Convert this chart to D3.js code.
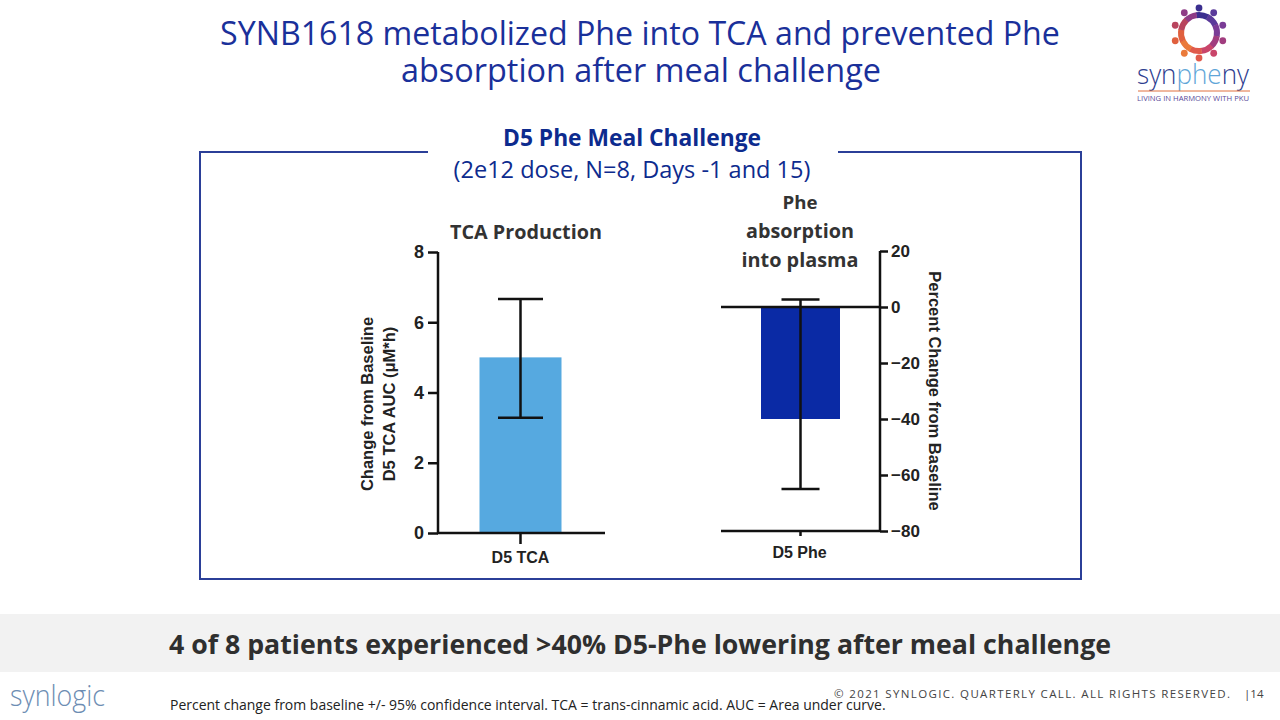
<!DOCTYPE html>
<html><head><meta charset="utf-8">
<script src="https://cdn.jsdelivr.net/npm/d3@7/dist/d3.min.js"></script>
<style>
html,body{margin:0;padding:0;background:#fff;}
svg{display:block;}
</style></head>
<body>
<svg id="c" width="1280" height="720"></svg>
<script>
// ---- data ----
const tcaCategories = ["D5 TCA"];
const tcaMean = [5.0];
const tcaLow = [3.28];
const tcaHigh = [6.66];
const tcaTicks = [0, 2, 4, 6, 8];

const pheCategories = ["D5 Phe"];
const pheMean = [-40];
const pheLow = [-65];
const pheHigh = [2.7];
const pheTicks = [20, 0, -20, -40, -60, -80];

const svg = d3.select("#c");
const CAL = "'Open Sans','Noto Sans',sans-serif";
const ARIAL = "'Liberation Sans',Arial,sans-serif";

function fit(sel, w) {
  const n = sel.node();
  const cur = n.getComputedTextLength();
  const fs = parseFloat(sel.attr("font-size"));
  sel.attr("font-size", (fs * w / cur).toFixed(2));
}

// ---- title ----
const t1 = svg.append("text").attr("x", 640).attr("y", 45).attr("text-anchor", "middle")
  .attr("font-family", CAL).attr("font-size", 30).attr("fill", "#1a309a")
  .text("SYNB1618 metabolized Phe into TCA and prevented Phe");
fit(t1, 840);
const t2 = svg.append("text").attr("x", 641).attr("y", 82).attr("text-anchor", "middle")
  .attr("font-family", CAL).attr("font-size", 30).attr("fill", "#1a309a")
  .text("absorption after meal challenge");
fit(t2, 480);

// ---- frame ----
svg.append("rect").attr("x", 200).attr("y", 152).attr("width", 881).attr("height", 427)
  .attr("fill", "none").attr("stroke", "#2b3f98").attr("stroke-width", 2);
svg.append("rect").attr("x", 428).attr("y", 140).attr("width", 410).attr("height", 30).attr("fill", "#fff");
const h1 = svg.append("text").attr("x", 632).attr("y", 146).attr("text-anchor", "middle")
  .attr("font-family", CAL).attr("font-weight", "bold").attr("font-size", 22).attr("fill", "#0d2b8e")
  .text("D5 Phe Meal Challenge");
fit(h1, 258);
const h2 = svg.append("text").attr("x", 632).attr("y", 178).attr("text-anchor", "middle")
  .attr("font-family", CAL).attr("font-size", 22).attr("fill", "#0d2b8e")
  .text("(2e12 dose, N=8, Days -1 and 15)");
fit(h2, 357);

// ---- left chart: TCA ----
const yL = d3.scaleLinear().domain([0, 8]).range([533, 252]);
const xL = d3.scaleBand().domain(tcaCategories).range([438, 605]).paddingInner(0).paddingOuter(0.25);
const barWL = 82;
const gL = svg.append("g");
gL.selectAll("rect.bar").data(tcaCategories).join("rect")
  .attr("x", (d) => xL(d) + xL.bandwidth() / 2 - barWL / 2 - 1)
  .attr("width", barWL)
  .attr("y", (d, i) => yL(tcaMean[i]))
  .attr("height", (d, i) => yL(0) - yL(tcaMean[i]))
  .attr("fill", "#56a9e0");
tcaCategories.forEach((c, i) => {
  const cx = xL(c) + xL.bandwidth() / 2 - 1;
  gL.append("line").attr("x1", cx).attr("x2", cx).attr("y1", yL(tcaHigh[i])).attr("y2", yL(tcaLow[i]))
    .attr("stroke", "#111").attr("stroke-width", 2.5);
  [tcaHigh[i], tcaLow[i]].forEach(v => gL.append("line").attr("x1", cx - 22.5).attr("x2", cx + 22.5)
    .attr("y1", yL(v)).attr("y2", yL(v)).attr("stroke", "#111").attr("stroke-width", 2.5));
  gL.append("line").attr("x1", cx).attr("x2", cx).attr("y1", 533).attr("y2", 544)
    .attr("stroke", "#111").attr("stroke-width", 2.5);
  gL.append("text").attr("x", cx).attr("y", 563).attr("text-anchor", "middle")
    .attr("font-family", ARIAL).attr("font-weight", "bold").attr("font-size", 16).attr("fill", "#222")
    .text(c);
});
const axL = gL.append("g").attr("transform", "translate(438,0)")
  .call(d3.axisLeft(yL).tickValues(tcaTicks).tickSize(10).tickPadding(4).tickFormat(d3.format("d")));
axL.select(".domain").attr("stroke", "#111").attr("stroke-width", 2.5).attr("d", "M0,252V533");
axL.selectAll(".tick line").attr("stroke", "#111").attr("stroke-width", 2.5);
axL.selectAll(".tick text").attr("font-family", ARIAL).attr("font-weight", "bold").attr("font-size", 18).attr("fill", "#222");
gL.append("line").attr("x1", 437).attr("x2", 605).attr("y1", 533).attr("y2", 533).attr("stroke", "#111").attr("stroke-width", 2.5);
gL.append("text").attr("transform", "translate(373,404) rotate(-90)").attr("text-anchor", "middle")
  .attr("font-family", ARIAL).attr("font-weight", "bold").attr("font-size", 16.5).attr("fill", "#222")
  .text("Change from Baseline");
gL.append("text").attr("transform", "translate(395,404) rotate(-90)").attr("text-anchor", "middle")
  .attr("font-family", ARIAL).attr("font-weight", "bold").attr("font-size", 16.5).attr("fill", "#222")
  .text("D5 TCA AUC (\u03bcM*h)");
const lt = gL.append("text").attr("x", 526).attr("y", 239).attr("text-anchor", "middle")
  .attr("font-family", CAL).attr("font-weight", "bold").attr("font-size", 20).attr("fill", "#333")
  .text("TCA Production");
fit(lt, 152);

// ---- right chart: Phe ----
const yR = d3.scaleLinear().domain([-80, 20]).range([531, 251]);
const xR = d3.scaleBand().domain(pheCategories).range([721, 880]).paddingInner(0).paddingOuter(0.25);
const barWR = 79;
const gR = svg.append("g");
gR.selectAll("rect.bar").data(pheCategories).join("rect")
  .attr("x", (d) => xR(d) + xR.bandwidth() / 2 - barWR / 2)
  .attr("width", barWR)
  .attr("y", yR(0))
  .attr("height", (d, i) => yR(pheMean[i]) - yR(0))
  .attr("fill", "#0a2aa5");
pheCategories.forEach((c, i) => {
  const cx = xR(c) + xR.bandwidth() / 2;
  gR.append("line").attr("x1", cx).attr("x2", cx).attr("y1", yR(pheHigh[i])).attr("y2", yR(pheLow[i]))
    .attr("stroke", "#111").attr("stroke-width", 2.5);
  [pheHigh[i], pheLow[i]].forEach(v => gR.append("line").attr("x1", cx - 19).attr("x2", cx + 19)
    .attr("y1", yR(v)).attr("y2", yR(v)).attr("stroke", "#111").attr("stroke-width", 2.5));
  gR.append("line").attr("x1", cx).attr("x2", cx).attr("y1", yR(-80)).attr("y2", yR(-80) + 5)
    .attr("stroke", "#111").attr("stroke-width", 2.5);
  gR.append("text").attr("x", cx - 1).attr("y", 558).attr("text-anchor", "middle")
    .attr("font-family", ARIAL).attr("font-weight", "bold").attr("font-size", 16).attr("fill", "#222")
    .text(c);
});
gR.append("line").attr("x1", 721).attr("x2", 880).attr("y1", yR(0)).attr("y2", yR(0)).attr("stroke", "#111").attr("stroke-width", 2.5);
gR.append("line").attr("x1", 721).attr("x2", 880).attr("y1", yR(-80)).attr("y2", yR(-80)).attr("stroke", "#111").attr("stroke-width", 2.5);
const axR = gR.append("g").attr("transform", "translate(880,0)")
  .call(d3.axisRight(yR).tickValues(pheTicks).tickSize(8).tickPadding(3).tickFormat(d3.format("d")));
axR.select(".domain").attr("stroke", "#111").attr("stroke-width", 2.5).attr("d", "M0,251V531");
axR.selectAll(".tick line").attr("stroke", "#111").attr("stroke-width", 2.5);
axR.selectAll(".tick text").attr("font-family", ARIAL).attr("font-weight", "bold").attr("font-size", 17).attr("fill", "#222");
gR.append("text").attr("transform", "translate(929,391) rotate(90)").attr("text-anchor", "middle")
  .attr("font-family", ARIAL).attr("font-weight", "bold").attr("font-size", 16.5).attr("fill", "#222")
  .text("Percent Change from Baseline");
["Phe", "absorption", "into plasma"].forEach((s, i) => {
  const t = gR.append("text").attr("x", 800).attr("y", 209 + i * 29).attr("text-anchor", "middle")
    .attr("font-family", CAL).attr("font-weight", "bold").attr("font-size", 20).attr("fill", "#333").text(s);
  fit(t, [35, 108, 117][i]);
});

// ---- banner ----
svg.append("rect").attr("x", 0).attr("y", 614).attr("width", 1280).attr("height", 58).attr("fill", "#f2f2f2");
const bt = svg.append("text").attr("x", 640).attr("y", 654).attr("text-anchor", "middle")
  .attr("font-family", CAL).attr("font-weight", "bold").attr("font-size", 26).attr("fill", "#2f2f2f")
  .text("4 of 8 patients experienced >40% D5-Phe lowering after meal challenge");
fit(bt, 942);

// ---- footer ----
svg.append("text").attr("x", 10).attr("y", 706).attr("font-family", CAL).attr("font-weight", 300)
  .attr("font-size", 30).attr("fill", "#6d8db3").attr("textLength", 95).attr("lengthAdjust", "spacingAndGlyphs")
  .text("synlogic");
const fn = svg.append("text").attr("x", 170).attr("y", 710).attr("font-family", CAL)
  .attr("font-size", 13).attr("fill", "#222")
  .text("Percent change from baseline +/- 95% confidence interval. TCA = trans-cinnamic acid. AUC = Area under curve.");
fit(fn, 716);
svg.append("text").attr("x", 834).attr("y", 698).attr("font-family", CAL)
  .attr("font-size", 11.5).attr("fill", "#444")
  .attr("textLength", 396).attr("lengthAdjust", "spacing")
  .text("\u00a9 2021 SYNLOGIC. QUARTERLY CALL. ALL RIGHTS RESERVED.");
svg.append("text").attr("x", 1244).attr("y", 698).attr("font-family", CAL)
  .attr("font-size", 11.5).attr("fill", "#444").text("|14");

// ---- synpheny logo ----
const lg = svg.append("g").attr("transform", "translate(1199,33)");
const ringColors = ["#3b2f8f", "#5a3a9a", "#7a3c96", "#a13d7f", "#c9456a", "#e05a4c", "#ea7a3a", "#e0603e", "#b8445e", "#8e3c86", "#5b3a99", "#3f3493"];
d3.range(10).forEach(i => {
  const a = i / 10 * 2 * Math.PI - Math.PI / 2;
  lg.append("circle").attr("cx", 25 * Math.cos(a)).attr("cy", 25 * Math.sin(a)).attr("r", 3.4).attr("fill", ringColors[i]);
  lg.append("path").attr("d", d3.arc()({innerRadius: 15, outerRadius: 21, startAngle: a + Math.PI / 2 - 0.15, endAngle: a + Math.PI / 2 + 0.5}))
    .attr("fill", ringColors[i]);
});
svg.append("text").attr("x", 1193).attr("y", 84).attr("text-anchor", "middle").attr("font-family", CAL)
  .attr("font-size", 27).attr("fill", "#2d3d8f").attr("font-weight", 300)
  .attr("textLength", 112).attr("lengthAdjust", "spacingAndGlyphs")
  .html("syn<tspan fill='#5fa6d8'>phe</tspan>ny");
svg.append("line").attr("x1", 1138).attr("x2", 1250).attr("y1", 91).attr("y2", 91).attr("stroke", "#e0703f").attr("stroke-width", 1);
svg.append("text").attr("x", 1193).attr("y", 101).attr("text-anchor", "middle").attr("font-family", CAL)
  .attr("font-size", 7).attr("fill", "#5a4a9a").attr("textLength", 112).attr("lengthAdjust", "spacingAndGlyphs")
  .text("LIVING IN HARMONY WITH PKU");
</script>
</body></html>
